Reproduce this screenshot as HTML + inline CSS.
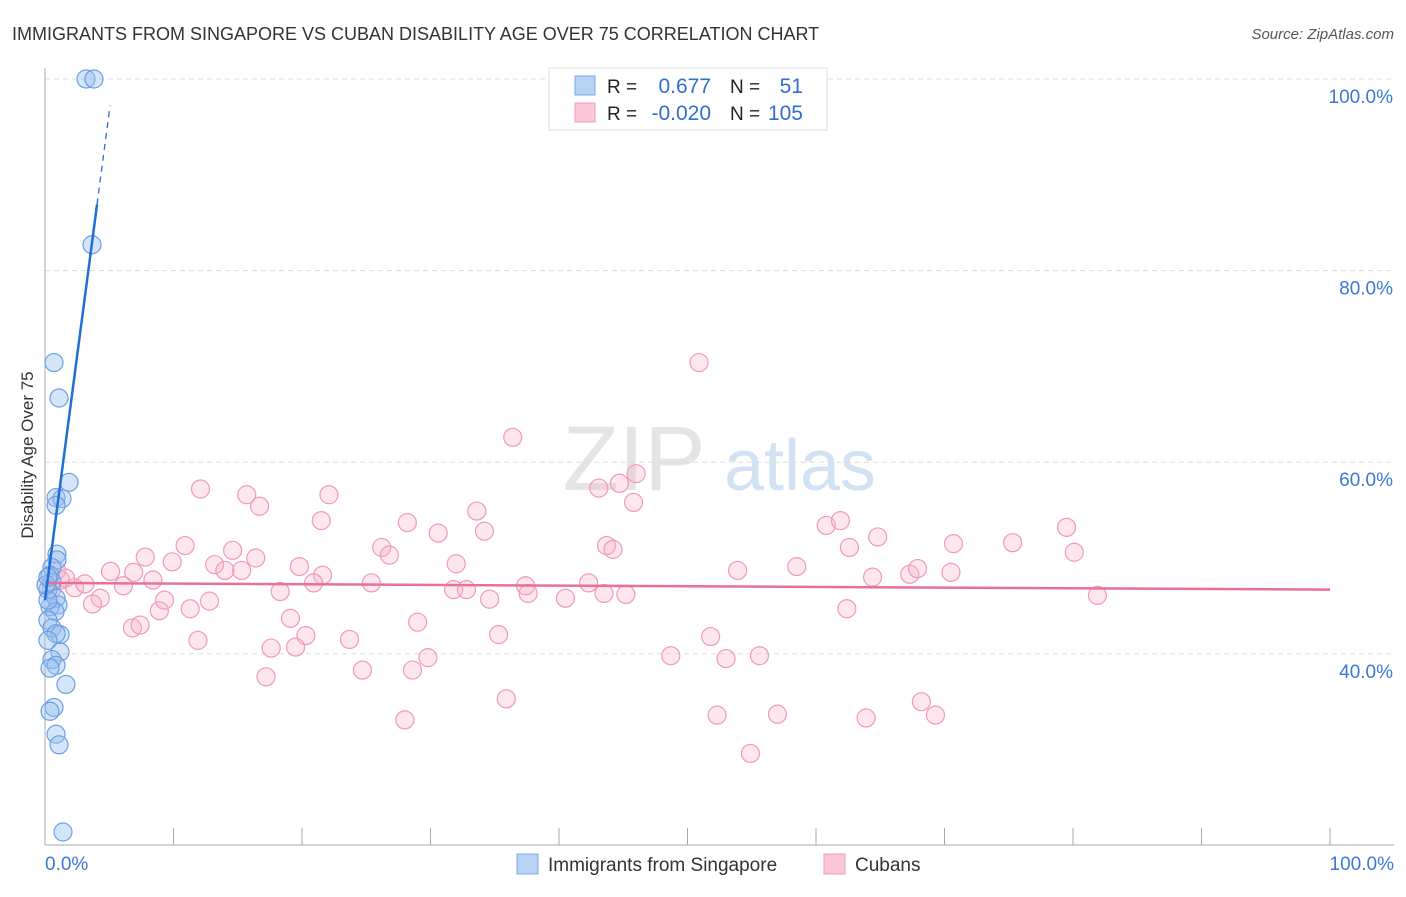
<!DOCTYPE html>
<html><head><meta charset="utf-8"><style>
body{margin:0;background:#fff;font-family:"Liberation Sans",sans-serif;}
svg text{font-family:"Liberation Sans",sans-serif;}
</style></head><body>
<svg id="chart" width="1406" height="892" xmlns="http://www.w3.org/2000/svg">
<text x="12" y="40" font-size="18" fill="#333">IMMIGRANTS FROM SINGAPORE VS CUBAN DISABILITY AGE OVER 75 CORRELATION CHART</text>
<text x="1394" y="39" font-size="15" fill="#555" text-anchor="end" font-style="italic">Source: ZipAtlas.com</text>
<text transform="translate(33,455) rotate(-90)" font-size="17" fill="#333" text-anchor="middle">Disability Age Over 75</text>
<g>
<text x="634" y="490" font-size="92" fill="#e4e4e4" text-anchor="middle" font-family="Liberation Serif,serif">ZIP</text>
<text x="800" y="490" font-size="72" fill="#d3e2f3" text-anchor="middle">atlas</text>
</g>
<g id="grid"></g>
<g id="axes"></g>
<g id="pts"></g>
<g id="lines"></g>
<g>
<rect x="549" y="68" width="278" height="62" fill="#fff" stroke="#ddd"/>
<rect x="575" y="76" width="20" height="19" fill="#b7d2f3" stroke="#7aa8e2"/>
<rect x="575" y="103" width="20" height="19" fill="#fbc6d6" stroke="#ef9ab7"/>
<text x="607" y="93" font-size="19" fill="#222">R =</text>
<text x="711" y="93" font-size="21" fill="#2f6fd0" text-anchor="end">0.677</text>
<text x="730" y="93" font-size="19" fill="#222">N =</text>
<text x="803" y="93" font-size="21" fill="#2f6fd0" text-anchor="end">51</text>
<text x="607" y="120" font-size="19" fill="#222">R =</text>
<text x="711" y="120" font-size="21" fill="#2f6fd0" text-anchor="end">-0.020</text>
<text x="730" y="120" font-size="19" fill="#222">N =</text>
<text x="803" y="120" font-size="21" fill="#2f6fd0" text-anchor="end">105</text>
</g>
<g>
<rect x="517" y="854" width="21" height="20" fill="#b7d2f3" stroke="#7aa8e2"/>
<text x="548" y="871" font-size="19" fill="#333">Immigrants from Singapore</text>
<rect x="824" y="854" width="21" height="20" fill="#fbc6d6" stroke="#ef9ab7"/>
<text x="855" y="871" font-size="19" fill="#333">Cubans</text>
</g>
</svg>
<script>
const yTicks=[40,60,80,100];
const xTickLabels=["0.0%","100.0%"];
const blueX=[3.19,3.81,3.66,0.70,1.09,1.87,0.86,1.32,0.86,0.93,0.93,0.54,0.39,0.54,0.23,0.86,1.01,0.39,0.78,0.23,0.54,1.17,0.86,0.23,1.17,0.54,0.86,0.39,1.63,0.70,0.39,0.86,1.09,1.40,0.23,0.08,0.23];
const blueY=[100,100,82.7,70.4,66.7,57.9,56.3,56.2,55.5,50.4,49.8,49.0,48.2,47.5,46.7,45.8,45.1,44.9,44.4,43.5,42.7,42.0,42.1,41.4,40.2,39.4,38.8,38.5,36.8,34.4,34.0,31.6,30.5,21.4,45.6,47.2,48.0];
const pinkX=[50.9,36.4,46.0,12.1,15.7,22.1,16.7,43.1,44.7,45.8,33.6,21.5,28.2,34.2,60.8,61.9,79.5,30.6,10.9,7.8,14.6,26.2,26.8,32.0,43.7,44.2,62.6,64.8,70.7,75.3,80.1,9.9,13.2,16.4,14.0,15.3,5.1,6.9,8.4,19.8,21.6,20.9,25.4,31.8,32.8,37.4,37.6,42.3,43.5,45.2,40.5,34.6,53.9,58.5,64.4,67.3,67.9,70.5,81.9,18.3,1.2,2.3,3.1,4.3,6.1,3.7,8.9,11.3,9.3,12.8,19.1,29.0,6.8,7.4,11.9,17.6,19.5,20.3,23.7,35.3,51.8,48.7,53.0,55.6,29.8,28.6,24.7,17.2,62.4,35.9,28.0,52.3,57.0,63.9,68.2,69.3,54.9,0.9,1.6,0.5];
const pinkY=[70.4,62.6,58.8,57.2,56.6,56.6,55.4,57.3,57.8,55.8,54.9,53.9,53.7,52.8,53.4,53.9,53.2,52.6,51.3,50.1,50.8,51.1,50.3,49.4,51.3,50.9,51.1,52.2,51.5,51.6,50.6,49.6,49.3,50.0,48.7,48.7,48.6,48.5,47.7,49.1,48.2,47.4,47.4,46.7,46.7,47.1,46.3,47.4,46.3,46.2,45.8,45.7,48.7,49.1,48.0,48.3,48.9,48.5,46.1,46.5,47.7,46.9,47.3,45.8,47.1,45.2,44.5,44.7,45.6,45.5,43.7,43.3,42.7,43.0,41.4,40.6,40.7,41.9,41.5,42.0,41.8,39.8,39.5,39.8,39.6,38.3,38.3,37.6,44.7,35.3,33.1,33.6,33.7,33.3,35.0,33.6,29.6,48.7,47.9,46.7];
const blueFit=[45.6,10.2];
const pinkFit=[47.4,46.7];
const NS="http://www.w3.org/2000/svg";
const X=v=>45+v*12.85, Y=v=>79+(100-v)*9.58;
function mk(t,a,p){const e=document.createElementNS(NS,t);for(const k in a)e.setAttribute(k,a[k]);p.appendChild(e);return e;}
const grid=document.getElementById('grid'),axes=document.getElementById('axes'),pts=document.getElementById('pts'),lines=document.getElementById('lines');
yTicks.forEach(v=>{
 const l=mk('line',{x1:45,x2:1394,y1:Y(v),y2:Y(v),stroke:'#ddd','stroke-dasharray':'5,4'},grid);
 
 
 const t=mk('text',{x:1393,y:Y(v)+24,'font-size':19,fill:'#3b78d8','text-anchor':'end'},axes);
 t.textContent=v.toFixed(1)+'%';
 
 
});
const ax=mk('line',{x1:45,x2:45,y1:68,y2:845,stroke:'#aaa'},axes);


const bx=mk('line',{x1:45,x2:1394,y1:845,y2:845,stroke:'#aaa'},axes);


for(let k=0;k<=10;k++){const tk=mk('line',{x1:X(k*10),x2:X(k*10),y1:828,y2:845,stroke:'#aaa'},axes);
 
 }
[[0,'start',45],[100,'end',1394]].forEach((d,i)=>{const t=mk('text',{x:d[2],y:870,'font-size':19,fill:'#3b78d8','text-anchor':d[1]},axes);t.textContent=xTickLabels[i];
 
 });
pinkX.forEach((x,i)=>{const c=mk('circle',{cx:X(x),cy:Y(pinkY[i]),r:9,fill:'rgba(248,178,200,0.32)',stroke:'#f09ab8','stroke-width':1.2},pts);
 
 });
blueX.forEach((x,i)=>{const c=mk('circle',{cx:X(x),cy:Y(blueY[i]),r:9,fill:'rgba(150,190,240,0.4)',stroke:'#6b9fe2','stroke-width':1.2},pts);
 
 });
const pl=mk('line',{x1:X(0),y1:Y(pinkFit[0]),x2:X(100),y2:Y(pinkFit[1]),stroke:'#e8709a','stroke-width':2.5},lines);


const bl=mk('line',{x1:X(0),y1:Y(blueFit[0]),x2:X(4.05),y2:Y(blueFit[0]+blueFit[1]*4.05),stroke:'#1f6fd6','stroke-width':2.5},lines);


const bd=mk('line',{x1:X(4.05),y1:Y(blueFit[0]+blueFit[1]*4.05),x2:X(5.06),y2:Y(blueFit[0]+blueFit[1]*5.06),stroke:'#1f6fd6','stroke-width':1.3,'stroke-dasharray':'6,5'},lines);


</script>
</body></html>
